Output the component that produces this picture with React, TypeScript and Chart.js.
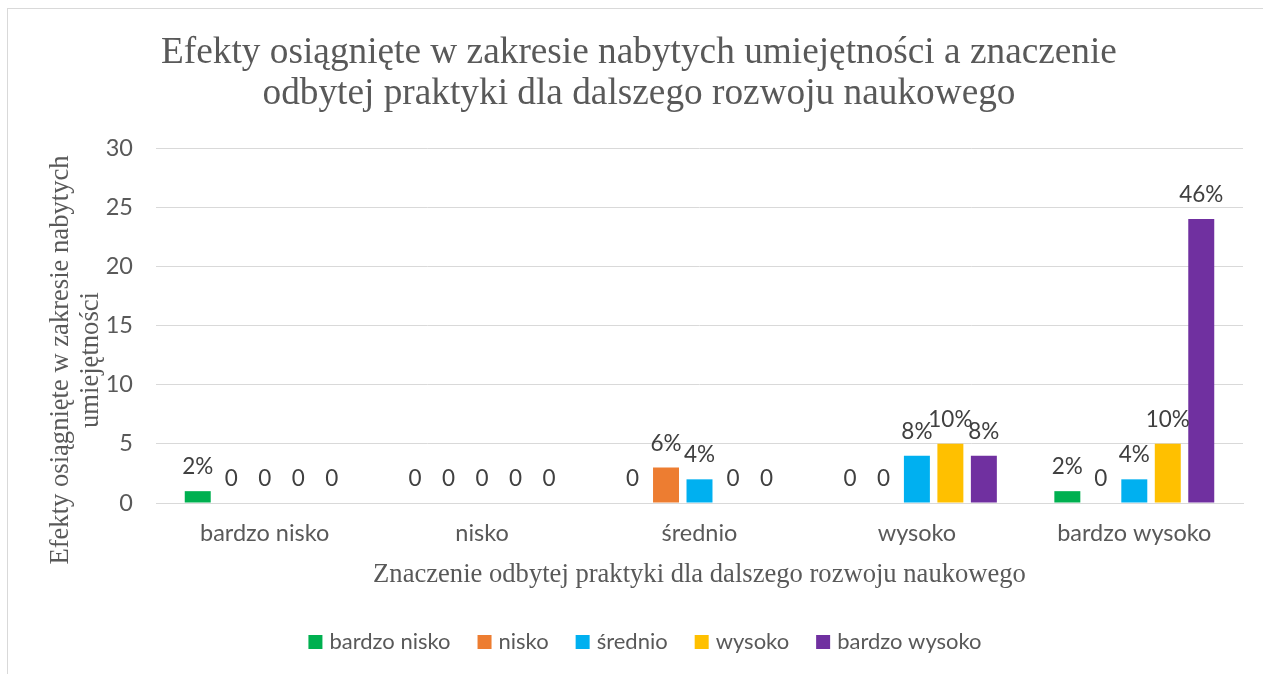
import { useEffect, useRef } from 'react';
import { Chart, registerables } from 'chart.js';

Chart.register(...registerables);

const categories = ['bardzo nisko', 'nisko', 'średnio', 'wysoko', 'bardzo wysoko'];
const seriesNames = ['bardzo nisko', 'nisko', 'średnio', 'wysoko', 'bardzo wysoko'];
const seriesColors = ['#00B050', '#ED7D31', '#00B0F0', '#FFC000', '#7030A0'];

const valuesBardzoNisko = [1, 0, 0, 0, 1];
const valuesNisko = [0, 0, 3, 0, 0];
const valuesSrednio = [0, 0, 2, 4, 2];
const valuesWysoko = [0, 0, 0, 5, 5];
const valuesBardzoWysoko = [0, 0, 0, 4, 24];

const labelsBardzoNisko = ['2%', '0', '0', '0', '2%'];
const labelsNisko = ['0', '0', '6%', '0', '0'];
const labelsSrednio = ['0', '0', '4%', '8%', '4%'];
const labelsWysoko = ['0', '0', '0', '10%', '10%'];
const labelsBardzoWysoko = ['0', '0', '0', '8%', '46%'];

const yTickValues = [0, 5, 10, 15, 20, 25, 30];

const titleLines = [
  'Efekty osiągnięte w zakresie nabytych umiejętności a znaczenie',
  'odbytej praktyki dla dalszego rozwoju naukowego',
];
const yTitleLines = ['Efekty osiągnięte w zakresie nabytych', 'umiejętności'];
const xTitle = 'Znaczenie odbytej praktyki dla dalszego rozwoju naukowego';

const SERIF = '"Liberation Serif", "Times New Roman", serif';
const SANS = 'Lato, "Open Sans", sans-serif';
const TEXT = '#595959';
const LABEL = '#404040';

const allValues = [valuesBardzoNisko, valuesNisko, valuesSrednio, valuesWysoko, valuesBardzoWysoko];
const allLabels = [labelsBardzoNisko, labelsNisko, labelsSrednio, labelsWysoko, labelsBardzoWysoko];

const decorPlugin = {
  id: 'decor',
  afterDraw(chart: any) {
    const ctx = chart.ctx as CanvasRenderingContext2D;
    const area = chart.chartArea;
    ctx.save();

    // Data labels
    ctx.font = `22.5px ${SANS}`;
    ctx.fillStyle = LABEL;
    ctx.textAlign = 'center';
    ctx.textBaseline = 'alphabetic';
    chart.data.datasets.forEach((ds: any, di: number) => {
      const meta = chart.getDatasetMeta(di);
      meta.data.forEach((bar: any, i: number) => {
        ctx.fillText(allLabels[di][i], bar.x, bar.y - 17);
      });
    });

    // Title
    ctx.font = `37.3px ${SERIF}`;
    ctx.fillStyle = TEXT;
    ctx.textAlign = 'center';
    ctx.fillText(titleLines[0], 639, 63);
    ctx.fillText(titleLines[1], 639, 104);

    // X axis title
    ctx.font = `26.6px ${SERIF}`;
    ctx.fillText(xTitle, (area.left + area.right) / 2, 582);

    // Y axis title
    ctx.save();
    ctx.translate(68, 360);
    ctx.rotate(-Math.PI / 2);
    ctx.fillText(yTitleLines[0], 0, 0);
    ctx.restore();
    ctx.save();
    ctx.translate(98, 360);
    ctx.rotate(-Math.PI / 2);
    ctx.fillText(yTitleLines[1], 0, 0);
    ctx.restore();

    // Legend
    ctx.font = `22px ${SANS}`;
    ctx.textAlign = 'left';
    ctx.textBaseline = 'middle';
    const sq = 14;
    const gapText = 7;
    const gapItem = 27;
    const widths = seriesNames.map((n) => ctx.measureText(n).width);
    const total = widths.reduce((a, w) => a + sq + gapText + w, 0) + gapItem * (seriesNames.length - 1);
    let x = 645 - total / 2;
    const cy = 642;
    seriesNames.forEach((n, i) => {
      ctx.fillStyle = seriesColors[i];
      ctx.fillRect(x, cy - sq / 2, sq, sq);
      ctx.fillStyle = TEXT;
      ctx.fillText(n, x + sq + gapText, cy);
      x += sq + gapText + widths[i] + gapItem;
    });

    ctx.restore();
  },
};

export default function App() {
  const ref = useRef<HTMLCanvasElement | null>(null);
  useEffect(() => {
    if (!ref.current) return;
    const chart = new Chart(ref.current, {
      type: 'bar',
      data: {
        labels: categories,
        datasets: seriesNames.map((name, i) => ({
          label: name,
          data: allValues[i],
          backgroundColor: seriesColors[i],
          borderWidth: 0,
          categoryPercentage: 0.77,
          barPercentage: 0.776,
        })),
      },
      options: {
        responsive: false,
        animation: false,
        layout: { padding: { left: 0, top: 148, right: 20, bottom: 0 } },
        plugins: {
          legend: { display: false },
          title: { display: false },
          tooltip: { enabled: false },
        },
        scales: {
          x: {
            grid: { display: false, drawTicks: false },
            border: { display: true, color: '#d9d9d9', width: 1 },
            ticks: { color: TEXT, font: { family: SANS, size: 23.5 }, padding: 16 },
            afterFit: (s: any) => { s.height = 171; },
          },
          y: {
            min: 0,
            max: 30,
            afterBuildTicks: (s: any) => { s.ticks = yTickValues.map((v) => ({ value: v })); },
            grid: { color: '#d9d9d9', lineWidth: 1, drawTicks: false },
            border: { display: false },
            ticks: { color: TEXT, font: { family: SANS, size: 23.5 }, padding: 23 },
            afterFit: (s: any) => { s.width = 156; },
          },
        },
      },
      plugins: [decorPlugin],
    });
    return () => chart.destroy();
  }, []);

  return (
    <div style={{ position: 'fixed', left: 0, top: 0, width: 1263, height: 674, overflow: 'hidden', background: '#fff' }}>
      <div style={{ position: 'absolute', left: 7, top: 8, width: 1280, height: 700, border: '1px solid #d9d9d9' }} />
      <canvas ref={ref} width={1263} height={674} style={{ position: 'absolute', left: 0, top: 0, width: 1263, height: 674 }} />
    </div>
  );
}
